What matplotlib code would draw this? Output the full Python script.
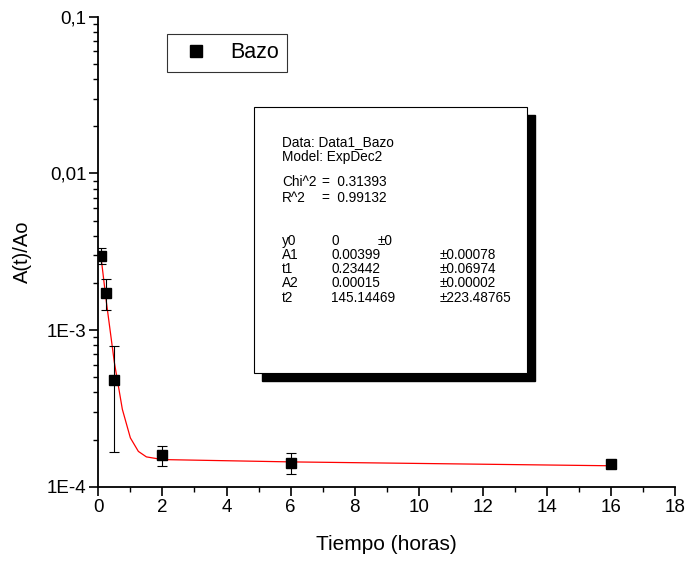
import numpy as np
import matplotlib.pyplot as plt
from matplotlib.lines import Line2D
from matplotlib.patches import Rectangle
from matplotlib.ticker import FixedLocator, FixedFormatter, MultipleLocator, NullFormatter

plt.rcParams['font.family'] = ['Liberation Sans', 'DejaVu Sans']

# datos medidos (bazo)
t = [0.083, 0.25, 0.5, 2, 6, 16]
y = [2.97e-3, 1.73e-3, 4.8e-4, 1.59e-4, 1.42e-4, 1.39e-4]
yerr = [3.5e-4, 3.8e-4, 3.14e-4, 2.4e-5, 2.1e-5, 4e-6]

# curva de ajuste ExpDec2 (puntos leidos)
t_fit = [0.083, 0.25, 0.5, 0.75, 1.0, 1.25, 1.5, 2, 6, 16]
y_fit = [2.95e-3, 1.52e-3, 6.23e-4, 3.12e-4, 2.05e-4, 1.68e-4, 1.55e-4, 1.49e-4, 1.44e-4, 1.36e-4]

W, H = 687, 561
fig = plt.figure(figsize=(W / 100, H / 100), dpi=100)
ax = fig.add_axes([98.3 / W, 1 - 486.7 / H, 577.0 / W, 470 / H])

ax.plot(t_fit, y_fit, color='red', lw=0.9, zorder=2)
ax.errorbar(t, y, yerr=yerr, fmt='s', color='black', ms=6.5, ecolor='black',
            elinewidth=0.8, capsize=3.3, capthick=0.8, zorder=3)

ax.set_yscale('log')
ax.set_xlim(0, 18)
ax.set_ylim(1e-4, 0.1)
ax.xaxis.set_major_locator(MultipleLocator(2))
ax.xaxis.set_minor_locator(MultipleLocator(1))
ax.yaxis.set_major_locator(FixedLocator([1e-4, 1e-3, 1e-2, 1e-1]))
ax.yaxis.set_major_formatter(FixedFormatter(['1E-4', '1E-3', '0,01', '0,1']))
minors = [m * 10.0 ** e for e in (-4, -3, -2) for m in range(2, 10)]
ax.yaxis.set_minor_locator(FixedLocator(minors))
ax.yaxis.set_minor_formatter(NullFormatter())

for s in ('top', 'right'):
    ax.spines[s].set_visible(False)
for s in ('left', 'bottom'):
    ax.spines[s].set_linewidth(1.3)
ax.tick_params(which='major', direction='out', length=6.5, width=1.2, labelsize=13.5, pad=2)
ax.tick_params(which='minor', direction='out', length=3.6, width=1.0)

ax.set_xlabel('Tiempo (horas)', fontsize=15, labelpad=14)
ax.set_ylabel('A(t)/Ao', fontsize=14.5, labelpad=11)

handle = Line2D([], [], ls='none', marker='s', color='black', ms=8.5)
leg = ax.legend([handle], ['Bazo'], loc='upper left',
                bbox_to_anchor=((166.7 - 98.3) / 577.0, (486.7 - 34.3) / 470),
                fontsize=15.5, frameon=True, fancybox=False, edgecolor='black',
                handlelength=2.0, handletextpad=0.55, borderpad=0.38,
                borderaxespad=0)
leg.get_frame().set_linewidth(0.8)

# cuadro de resultados del ajuste
x0, y0, bw, bh = 254, 107, 273, 266
fig.patches.append(Rectangle(((x0 + 8) / W, 1 - (y0 + bh + 8) / H), bw / W, bh / H,
                             transform=fig.transFigure, facecolor='black', edgecolor='black'))
fig.patches.append(Rectangle((x0 / W, 1 - (y0 + bh) / H), bw / W, bh / H,
                             transform=fig.transFigure, facecolor='white',
                             edgecolor='black', lw=0.8))

rows = [
    (141.7, [(282, 'Data: Data1_Bazo')]),
    (156.7, [(282, 'Model: ExpDec2')]),
    (182.3, [(282, 'Chi^2'), (322, '=  0.31393')]),
    (197.7, [(282, 'R^2'), (322, '=  0.99132')]),
    (240.7, [(282, 'y0'), (331.5, '0'), (378, '±0')]),
    (255, [(282, 'A1'), (331.5, '0.00399'), (440, '±0.00078')]),
    (269, [(282, 't1'), (331.5, '0.23442'), (440, '±0.06974')]),
    (283.3, [(282, 'A2'), (331.5, '0.00015'), (440, '±0.00002')]),
    (297.7, [(282, 't2'), (331.5, '145.14469'), (440, '±223.48765')]),
]
for yy, cells in rows:
    for xx, txt in cells:
        fig.text(xx / W, 1 - yy / H, txt, fontsize=9.8, ha='left', va='center')

fig.savefig('out.png', dpi=100)
